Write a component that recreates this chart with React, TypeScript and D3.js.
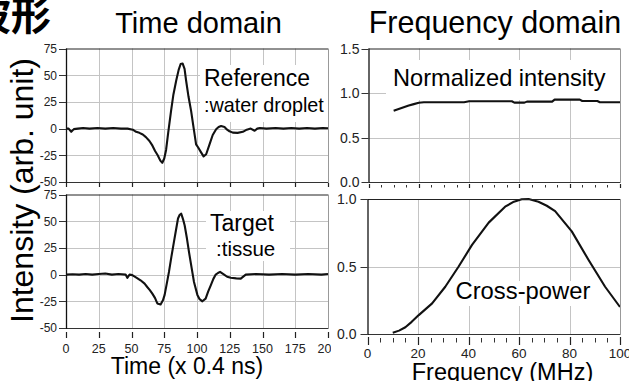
import React from "react";
import * as d3 from "d3";

// ---- data ----
const timeTicks = [0, 25, 50, 75, 100, 125, 150, 175, 200];
const ampTicks = [-50, -25, 0, 25, 50, 75];
const ampGrid = [-25, 0, 25, 50];
const freqTicks = [0, 20, 40, 60, 80, 100];
const freqMinor = [0, 5, 10, 15, 20, 25, 30, 35, 40, 45, 50, 55, 60, 65, 70, 75, 80, 85, 90, 95, 100];
const normTicks = [0, 0.5, 1.0, 1.5];
const crossTicks = [0, 0.5, 1.0];

const refT = [0, 2, 4, 6, 9, 13, 18, 24, 30, 36, 42, 47, 51, 53.5, 56, 58.6, 61, 63.7, 66, 68, 70, 72, 73.5, 75, 76.4, 78, 80.2, 82, 84.1, 86, 87.5, 89, 90.5, 91.7, 93.5, 95.5, 97.5, 99.3, 100.8, 103, 105, 107, 109.5, 112, 114.6, 116.5, 118.4, 121, 123, 124.8, 127.3, 131, 135, 138, 141, 144, 146, 148, 153, 160, 166, 172, 178, 184, 190, 196, 200];
const refV = [0, 0, -3, -0.5, 0, 0.5, 0, 0.5, 0, 0.5, 0, 0, -1, -3, -4, -5.5, -8, -11.6, -16, -21, -25, -30, -32, -28, -20, -4, 16.6, 32, 44.8, 55, 60.5, 61, 56, 44.8, 30, 16.6, 0, -14.7, -17.5, -22, -26, -24, -15, -6, -0.6, 1.5, 2.5, 1.5, -1, -2.5, -3.8, -4, -3, -1, 0, -2, 0, 0.5, 0, 0.5, 0, 0.5, 0, 0.5, 0, 0.5, 0.3];

const tgtT = [0, 5, 10, 15, 20, 25, 30, 35, 40, 45.5, 46.8, 48.5, 50.6, 54, 56.9, 60, 62, 64, 65.9, 68, 69.7, 72.2, 74, 75.3, 77, 78.6, 80.5, 82.4, 84, 85.5, 86.8, 88, 89.3, 90.6, 92.3, 93.9, 95.8, 97.7, 100.3, 102, 104.1, 106.6, 108.5, 110.5, 112.5, 114.3, 116, 117.6, 120.7, 123, 125.8, 130, 133.4, 137.2, 145, 155, 165, 175, 185, 195, 200];
const tgtV = [0, 0.3, 0, 0.5, 0, 0.5, 1, 0, 0.5, 0, -3, 0, -0.5, -3, -5.3, -8.5, -11.6, -14.5, -17.8, -22, -27, -28, -24, -19, -8, 2.5, 17, 30.6, 42, 52.5, 56, 57, 52, 46, 34, 21, 7, -6.9, -19, -23, -25, -22.5, -16, -10, -4, 0, 1.5, 2.5, 0, -2, -3, -3.5, -3.75, 0, 0.5, 0, 0.5, 0, 0.5, 0, 0.5];

const normF = [10, 12, 14, 16, 18, 20, 22, 38, 40, 57, 58, 62, 63, 73, 74, 84, 85, 91, 92, 100];
const normV = [0.8, 0.82, 0.84, 0.86, 0.875, 0.89, 0.896, 0.896, 0.907, 0.907, 0.892, 0.892, 0.903, 0.903, 0.926, 0.926, 0.91, 0.91, 0.896, 0.896];

const crossF = [10, 12.5, 15, 17.5, 20.3, 25.6, 30.8, 36.1, 41.4, 48, 54.5, 58, 61.1, 63.8, 67.7, 71, 74.3, 80.9, 87.5, 94.1, 100];
const crossV = [0.01, 0.025, 0.05, 0.09, 0.14, 0.227, 0.35, 0.5, 0.66, 0.825, 0.943, 0.98, 0.998, 1.0, 0.98, 0.95, 0.91, 0.76, 0.55, 0.35, 0.2];

const FONT = "'Liberation Sans', Arial, Helvetica, sans-serif";
const GRID = "#c4c4c4";
const INK = "#111";

type PanelProps = {
  id: string;
  xDomain: [number, number];
  xRange: [number, number];
  yDomain: [number, number];
  yRange: [number, number];
  xs: number[];
  ys: number[];
  gridX: number[];
  gridY: number[];
  yTicks: number[];
  yFmt: (v: number) => string;
  yFont: number;
  yLabelGap: number;
  majorX: number[];
  minorX: number[];
  majTick: [number, number];
  minTick: [number, number];
  xLabels: boolean;
  xFont: number;
  xLabelY: number;
  xClip: number;
  box?: [number, number, number, number];
  children?: React.ReactNode;
};

function Panel(p: PanelProps) {
  const x = d3.scaleLinear().domain(p.xDomain).range(p.xRange);
  const y = d3.scaleLinear().domain(p.yDomain).range(p.yRange);
  const [x0, x1] = p.xRange;
  const [yb, yt] = p.yRange;
  const pts: [number, number][] = p.xs.map((v, i) => [v, p.ys[i]]);
  const line = d3
    .line<[number, number]>()
    .x((d) => x(d[0]))
    .y((d) => y(d[1]))
    .curve(d3.curveLinear);
  const c = (v: number) => Math.round(v) + 0.5;
  return (
    <g>
      <defs>
        <clipPath id={p.id + "-clip"}>
          <rect x={0} y={0} width={p.xClip} height={381} />
        </clipPath>
        <clipPath id={p.id + "-plot"}>
          <rect x={x0} y={yt} width={x1 - x0 + 2} height={yb - yt} />
        </clipPath>
      </defs>
      <rect x={x0} y={yt} width={x1 - x0} height={yb - yt} fill="#fff" />
      {p.gridX.map((v) => (
        <line key={"gx" + v} x1={c(x(v))} x2={c(x(v))} y1={yt} y2={yb} stroke={GRID} strokeWidth={1} />
      ))}
      {p.gridY.map((v) => (
        <line key={"gy" + v} x1={x0} x2={x1} y1={c(y(v))} y2={c(y(v))} stroke={GRID} strokeWidth={1} />
      ))}
      <g clipPath={`url(#${p.id}-plot)`}>{p.children}</g>
      <path d={line(pts) || ""} fill="none" stroke={INK} strokeWidth={2.1} strokeLinejoin="round" />
      {/* frame */}
      <line x1={x0} x2={x1} y1={yt + 0.5} y2={yt + 0.5} stroke="#222" strokeWidth={1} />
      <line x1={x0} x2={x1} y1={yb + 0.5} y2={yb + 0.5} stroke="#333" strokeWidth={1} />
      <line x1={x0 + 0.5} x2={x0 + 0.5} y1={yt} y2={yb + 1} stroke="#111" strokeWidth={1.3} />
      <line x1={x1 + 0.5} x2={x1 + 0.5} y1={yt} y2={yb + 1} stroke="#999" strokeWidth={1} />
      {/* y ticks */}
      {p.yTicks.map((v) => (
        <g key={"yt" + v}>
          <line x1={x0 - 7} x2={x0} y1={c(y(v))} y2={c(y(v))} stroke="#333" strokeWidth={1} />
          <text
            x={x0 - p.yLabelGap}
            y={y(v)}
            dy="0.36em"
            textAnchor="end"
            fontFamily={FONT}
            fontSize={p.yFont}
            fill="#222"
          >
            {p.yFmt(v)}
          </text>
        </g>
      ))}
      {/* x ticks */}
      {p.minorX.map((v) => (
        <line key={"mn" + v} x1={c(x(v))} x2={c(x(v))} y1={p.minTick[0]} y2={p.minTick[1]} stroke="#333" strokeWidth={1} />
      ))}
      {p.majorX.map((v) => (
        <line key={"mj" + v} x1={c(x(v))} x2={c(x(v))} y1={p.majTick[0]} y2={p.majTick[1]} stroke="#222" strokeWidth={1.2} />
      ))}
      {p.xLabels && (
        <g clipPath={`url(#${p.id}-clip)`}>
          {p.majorX.map((v) => (
            <text
              key={"xl" + v}
              x={x(v)}
              y={p.xLabelY}
              textAnchor="middle"
              fontFamily={FONT}
              fontSize={p.xFont}
              fill="#222"
            >
              {v}
            </text>
          ))}
        </g>
      )}
    </g>
  );
}

export default function App() {
  const fmt0 = (v: number) => String(v);
  const fmt1 = (v: number) => v.toFixed(1);
  const leftX: [number, number] = [66, 328];
  const rightX: [number, number] = [367.5, 620];
  return (
    <svg
      width={629}
      height={381}
      viewBox="0 0 629 381"
      style={{ position: "absolute", left: 0, top: 0, background: "#fff" }}
    >
      <rect x={0} y={0} width={629} height={381} fill="#fff" />
      <text x={-29} y={30} fontFamily="'Noto Sans CJK JP', 'Noto Sans CJK SC', sans-serif" fontWeight={700} fontSize={40} fill="#000">
        波形
      </text>
      <text x={198.5} y={33} textAnchor="middle" fontFamily={FONT} fontSize={29} fill="#000">
        Time domain
      </text>
      <text x={495} y={33} textAnchor="middle" fontFamily={FONT} fontSize={30.5} fill="#000">
        Frequency domain
      </text>

      {/* top-left: reference */}
      <Panel
        id="tl"
        xDomain={[0, 200]}
        xRange={leftX}
        yDomain={[-50, 75]}
        yRange={[182, 48.5]}
        xs={refT}
        ys={refV}
        gridX={timeTicks.slice(1, -1)}
        gridY={ampGrid}
        yTicks={ampTicks}
        yFmt={fmt0}
        yFont={12}
        yLabelGap={9}
        majorX={timeTicks}
        minorX={[]}
        majTick={[183, 187]}
        minTick={[183, 187]}
        xLabels={false}
        xFont={12.5}
        xLabelY={0}
        xClip={332}
      >
        <rect x={200} y={65} width={130} height={57} fill="#fff" />
        <text x={204} y={86} fontFamily={FONT} fontSize={23} fill="#000">
          Reference
        </text>
        <text x={204} y={112} fontFamily={FONT} fontSize={19.8} fill="#000">
          :water droplet
        </text>
      </Panel>

      {/* bottom-left: target */}
      <Panel
        id="bl"
        xDomain={[0, 200]}
        xRange={leftX}
        yDomain={[-50, 75]}
        yRange={[328, 194.5]}
        xs={tgtT}
        ys={tgtV}
        gridX={timeTicks.slice(1, -1)}
        gridY={ampGrid}
        yTicks={ampTicks}
        yFmt={fmt0}
        yFont={12}
        yLabelGap={9}
        majorX={timeTicks}
        minorX={[]}
        majTick={[332, 338]}
        minTick={[332, 338]}
        xLabels={true}
        xFont={12.5}
        xLabelY={353}
        xClip={331}
      >
        <rect x={206} y={211} width={84} height={50} fill="#fff" />
        <text x={210} y={231} fontFamily={FONT} fontSize={23} fill="#000">
          Target
        </text>
        <text x={216} y={256} fontFamily={FONT} fontSize={20.5} fill="#000">
          :tissue
        </text>
      </Panel>

      {/* top-right: normalized intensity */}
      <Panel
        id="tr"
        xDomain={[0, 100]}
        xRange={[368.5, 620]}
        yDomain={[0, 1.5]}
        yRange={[182, 48.5]}
        xs={normF}
        ys={normV}
        gridX={freqTicks.slice(1, -1)}
        gridY={[0.5, 1.0]}
        yTicks={normTicks}
        yFmt={fmt1}
        yFont={14}
        yLabelGap={9}
        majorX={freqTicks}
        minorX={freqMinor}
        majTick={[184, 188]}
        minTick={[185, 187.5]}
        xLabels={false}
        xFont={13}
        xLabelY={0}
        xClip={629}
      >
        <rect x={386} y={60} width={234} height={40} fill="#fff" />
        <text x={393} y={86} fontFamily={FONT} fontSize={23.6} fill="#000">
          Normalized intensity
        </text>
      </Panel>

      {/* bottom-right: cross-power */}
      <Panel
        id="br"
        xDomain={[0, 100]}
        xRange={rightX}
        yDomain={[0, 1]}
        yRange={[334, 199]}
        xs={crossF}
        ys={crossV}
        gridX={freqTicks.slice(1, -1)}
        gridY={[0.5]}
        yTicks={crossTicks}
        yFmt={fmt1}
        yFont={14}
        yLabelGap={11}
        majorX={freqTicks}
        minorX={freqMinor}
        majTick={[337, 345]}
        minTick={[338, 342.5]}
        xLabels={true}
        xFont={13.5}
        xLabelY={358}
        xClip={629}
      >
        <rect x={452} y={281} width={144} height={25} fill="#fff" />
        <text x={455.5} y={299} fontFamily={FONT} fontSize={23.8} fill="#000">
          Cross-power
        </text>
      </Panel>

      <text
        transform="translate(33,190.5) rotate(-90)"
        textAnchor="middle"
        fontFamily={FONT}
        fontSize={32}
        fill="#000"
      >
        Intensity (arb. unit)
      </text>
      <text x={187} y={374} textAnchor="middle" fontFamily={FONT} fontSize={23} fill="#000">
        Time (x 0.4 ns)
      </text>
      <text x={502.5} y={380} textAnchor="middle" fontFamily={FONT} fontSize={23.5} fill="#000">
        Frequency (MHz)
      </text>
    </svg>
  );
}
